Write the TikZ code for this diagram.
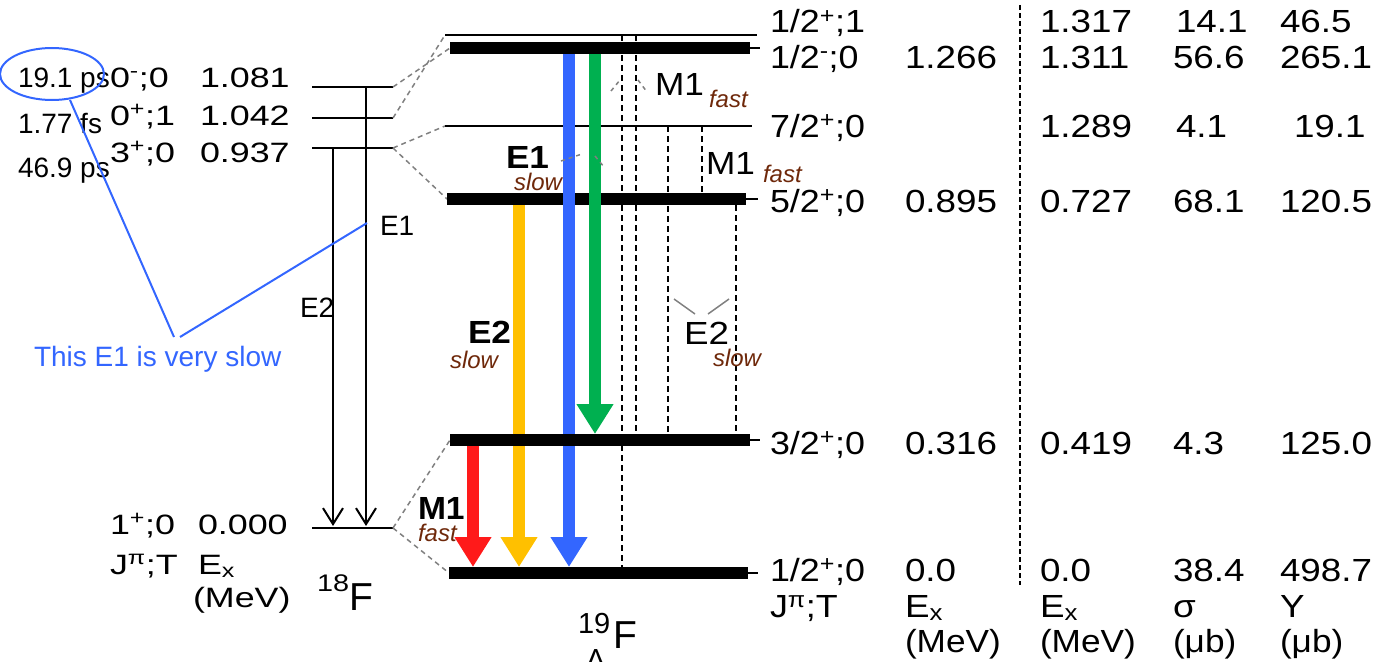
\documentclass[tikz,border=0pt]{standalone}
\usepackage{fontspec}
\setmainfont{Liberation Sans}
\usepackage{graphicx}
\usetikzlibrary{arrows.meta}
\definecolor{annblue}{RGB}{51,102,255}
\definecolor{arrred}{RGB}{255,26,26}
\definecolor{arryel}{RGB}{255,192,0}
\definecolor{arrblue}{RGB}{51,102,255}
\definecolor{arrgreen}{RGB}{0,176,80}
\definecolor{brownlab}{RGB}{110,40,10}
\definecolor{dashgrey}{RGB}{128,128,128}
\newcommand\hs[2]{\scalebox{#1}[1]{#2}}
\newcommand\sps[1]{\textsuperscript{#1}}
\begin{document}
\begin{tikzpicture}[x=1pt,y=-1pt,inner sep=0pt,outer sep=0pt,
  txt/.style={anchor=base west},
  lvl/.style={txt,font=\fontsize{28}{28}\selectfont},
  col/.style={txt,font=\fontsize{32}{32}\selectfont},
  life/.style={txt,font=\fontsize{28}{28}\selectfont},
  trl/.style={txt,font=\fontsize{32}{32}\selectfont},
  trb/.style={txt,font=\fontsize{32}{32}\selectfont\bfseries},
  speed/.style={txt,font=\fontsize{24}{24}\selectfont\itshape,text=brownlab},
  thin/.style={line width=1.5pt},
  bar/.style={line width=12pt},
  conn/.style={dashgrey,line width=1.5pt,dash pattern=on 5pt off 4pt},
  vdash/.style={line width=1.4pt,dash pattern=on 6pt off 4pt},
  ptr/.style={dashgrey,line width=1.5pt,dash pattern=on 4pt off 4pt},
  gam/.style={line width=12pt,-{Triangle[length=30pt,width=35pt]}},
  oarr/.style={line width=2pt,-{Straight Barb[length=16pt,width=20pt]}},
  ann/.style={annblue,line width=2pt}]
\useasboundingbox (0,0) rectangle (1378,661);

% ---------- 18F levels ----------
\coordinate (fAl) at (312,87);  \coordinate (fAr) at (393,87);
\coordinate (fBl) at (312,118); \coordinate (fBr) at (393,118);
\coordinate (fCl) at (312,148); \coordinate (fCr) at (393,148);
\coordinate (fGl) at (312,528); \coordinate (fGr) at (393,528);
\draw[thin] (fAl) -- (fAr);
\draw[thin] (fBl) -- (fBr);
\draw[thin] (fCl) -- (fCr);
\draw[thin] (fGl) -- (fGr);

% 18F transitions
\coordinate (e1s) at (366,87);  \coordinate (e1e) at (366,526);
\coordinate (e2s) at (333,148); \coordinate (e2e) at (333,526);
\draw[oarr] (e1s) -- (e1e);
\draw[oarr] (e2s) -- (e2e);
\node[lvl] (le1) at (380,235) {E1};
\node[lvl] (le2) at (300,317) {E2};

% ---------- 19LF levels ----------
\coordinate (tl) at (445,35);   \coordinate (tr) at (757,35);
\coordinate (b1l) at (450,48);  \coordinate (b1r) at (750,48);  \coordinate (b1t) at (760,48);
\coordinate (s7l) at (445,126); \coordinate (s7r) at (752,126);
\coordinate (b5l) at (447,199); \coordinate (b5r) at (746,199); \coordinate (b5t) at (758,199);
\coordinate (b3l) at (450,440); \coordinate (b3r) at (750,440); \coordinate (b3t) at (760,440);
\coordinate (b0l) at (449,573); \coordinate (b0r) at (748,573); \coordinate (b0t) at (758,573);

% dashed connectors 18F -> 19LF
\draw[conn] (fAr) -- (b1l);
\draw[conn] (fBr) -- (tl);
\draw[conn] (fCr) -- (s7l);
\draw[conn] (fCr) -- (b5l);
\draw[conn] (fGr) -- (b3l);
\draw[conn] (fGr) -- (b0l);

% thin levels and ticks
\draw[thin] (tl) -- (tr);
\draw[thin] (s7l) -- (s7r);
\draw[thin] (b1r) -- (b1t);
\draw[thin] (b5r) -- (b5t);
\draw[thin] (b3r) -- (b3t);
\draw[thin] (b0r) -- (b0t);

% dashed transitions
\coordinate (d1s) at (622,35);  \coordinate (d1e) at (622,567);
\coordinate (d2s) at (636,35);  \coordinate (d2e) at (636,434);
\coordinate (d3s) at (668,126); \coordinate (d3e) at (668,434);
\coordinate (d4s) at (702,126); \coordinate (d4e) at (702,193);
\coordinate (d5s) at (736,205); \coordinate (d5e) at (736,434);
\draw[vdash] (d1s) -- (d1e);
\draw[vdash] (d2s) -- (d2e);
\draw[vdash] (d3s) -- (d3e);
\draw[vdash] (d4s) -- (d4e);
\draw[vdash] (d5s) -- (d5e);

\draw[bar] (b5l) -- (b5r);

% coloured gamma arrows
\coordinate (rs) at (473,446); \coordinate (re) at (473,567);
\coordinate (ys) at (519,205); \coordinate (ye) at (519,567);
\coordinate (bs) at (569,54);  \coordinate (be) at (569,567);
\coordinate (gs) at (595,54);  \coordinate (ge) at (595,434);
\draw[gam,arrred] (rs) -- (re);
\draw[gam,arryel] (ys) -- (ye);
\draw[gam,arrblue] (bs) -- (be);
\draw[gam,arrgreen] (gs) -- (ge);

\draw[bar] (b1l) -- (b1r);
\draw[bar] (b3l) -- (b3r);
\draw[bar] (b0l) -- (b0r);

% pointers
\coordinate (p1a) at (611,91); \coordinate (p1b) at (620,80);
\coordinate (p2a) at (638,80); \coordinate (p2b) at (647,92);
\coordinate (p3a) at (561,161); \coordinate (p3b) at (582,154);
\coordinate (p4a) at (595,156); \coordinate (p4b) at (604,167);
\draw[ptr] (p1a) -- (p1b);
\draw[ptr] (p2a) -- (p2b);
\draw[ptr] (p3a) -- (p3b);
\draw[ptr] (p4a) -- (p4b);
\coordinate (q1a) at (674,299); \coordinate (q1b) at (695,314);
\coordinate (q2a) at (708,314); \coordinate (q2b) at (729,299);
\draw[dashgrey,line width=1.5pt] (q1a) -- (q1b);
\draw[dashgrey,line width=1.5pt] (q2a) -- (q2b);

% transition labels
\node[trl] (m1a) at (655,95) {\hs{1.1}{M1}};
\node[speed] (m1af) at (709,107) {fast};
\node[trl] (m1b) at (706,174) {\hs{1.1}{M1}};
\node[speed] (m1bf) at (763,182) {fast};
\node[trb] (e1b) at (506,168) {\hs{1.1}{E1}};
\node[speed] (e1bs) at (514,190) {slow};
\node[trb] (e2b) at (468,343) {\hs{1.1}{E2}};
\node[speed] (e2bs) at (450,368) {slow};
\node[trl] (e2t) at (684,344) {\hs{1.15}{E2}};
\node[speed] (e2ts) at (713,366) {slow};
\node[trb] (m1c) at (418,519) {\hs{1.05}{M1}};
\node[speed] (m1cs) at (418,541) {fast};

% 18F level labels
\node[lvl] (ja) at (110,87)  {\hs{1.28}{0\sps{-};0}};
\node[lvl] (ea) at (200,87)  {\hs{1.28}{1.081}};
\node[lvl] (jb) at (110,125) {\hs{1.28}{0\sps{+};1}};
\node[lvl] (eb) at (200,125) {\hs{1.28}{1.042}};
\node[lvl] (jc) at (110,162) {\hs{1.28}{3\sps{+};0}};
\node[lvl] (ec) at (200,162) {\hs{1.28}{0.937}};
\node[lvl] (jg) at (110,534) {\hs{1.28}{1\sps{+};0}};
\node[lvl] (eg) at (198,534) {\hs{1.28}{0.000}};
\node[lvl] (jh) at (110,574) {\hs{1.28}{J\sps{π};T}};
\node[lvl] (eh) at (198,574) {\hs{1.28}{E\textsubscript{x}}};
\node[lvl] (mh) at (193,607) {\hs{1.28}{(MeV)}};
\node[txt,font=\fontsize{24}{24}\selectfont] (f18a) at (317,591) {\hs{1.2}{18}};
\node[txt,font=\fontsize{39}{39}\selectfont] (f18b) at (349,610) {F};

% lifetimes
\node[life] (t1) at (18,88)  {19.1 ps};
\node[life] (t2) at (18,133) {1.77 fs};
\node[life] (t3) at (18,177) {46.9 ps};

% annotation
\draw[ann] (52,74) ellipse [x radius=52, y radius=26];
\coordinate (a0) at (70,100);
\coordinate (a1) at (174,337);
\coordinate (a2) at (180,337);
\coordinate (a3) at (367,223);
\draw[ann] (a0) -- (a1);
\draw[ann] (a2) -- (a3);
\node[life,text=annblue] (anntxt) at (34,366) {This E1 is very slow};

% 19LF labels
\node[txt,font=\fontsize{29}{29}\selectfont] (f19a) at (578,633) {19};
\node[txt,font=\fontsize{39}{39}\selectfont] (f19b) at (613,648) {F};
\node[txt,font=\fontsize{29}{29}\selectfont] (f19c) at (586,669) {Λ};

% right columns
\node[col] (r1a) at (770,33)  {\hs{1.12}{1/2\sps{+};1}};
\node[col] (r1c) at (1040,33) {\hs{1.15}{1.317}};
\node[col] (r1d) at (1176,33) {\hs{1.15}{14.1}};
\node[col] (r1e) at (1280,33) {\hs{1.15}{46.5}};

\node[col] (r2a) at (770,68)  {\hs{1.12}{1/2\sps{-};0}};
\node[col] (r2b) at (905,68)  {\hs{1.15}{1.266}};
\node[col] (r2c) at (1040,68) {\hs{1.15}{1.311}};
\node[col] (r2d) at (1173,68) {\hs{1.15}{56.6}};
\node[col] (r2e) at (1280,68) {\hs{1.15}{265.1}};

\node[col] (r3a) at (770,137)  {\hs{1.12}{7/2\sps{+};0}};
\node[col] (r3c) at (1040,137) {\hs{1.15}{1.289}};
\node[col] (r3d) at (1176,137) {\hs{1.15}{4.1}};
\node[col] (r3e) at (1294,137) {\hs{1.15}{19.1}};

\node[col] (r4a) at (770,212)  {\hs{1.12}{5/2\sps{+};0}};
\node[col] (r4b) at (905,212)  {\hs{1.15}{0.895}};
\node[col] (r4c) at (1040,212) {\hs{1.15}{0.727}};
\node[col] (r4d) at (1173,212) {\hs{1.15}{68.1}};
\node[col] (r4e) at (1280,212) {\hs{1.15}{120.5}};

\node[col] (r5a) at (770,454)  {\hs{1.12}{3/2\sps{+};0}};
\node[col] (r5b) at (905,454)  {\hs{1.15}{0.316}};
\node[col] (r5c) at (1040,454) {\hs{1.15}{0.419}};
\node[col] (r5d) at (1173,454) {\hs{1.15}{4.3}};
\node[col] (r5e) at (1280,454) {\hs{1.15}{125.0}};

\node[col] (r6a) at (770,581)  {\hs{1.12}{1/2\sps{+};0}};
\node[col] (r6b) at (905,581)  {\hs{1.15}{0.0}};
\node[col] (r6c) at (1040,581) {\hs{1.15}{0.0}};
\node[col] (r6d) at (1173,581) {\hs{1.15}{38.4}};
\node[col] (r6e) at (1280,581) {\hs{1.15}{498.7}};

\node[col] (h1a) at (770,617)  {\hs{1.12}{J\sps{π};T}};
\node[col] (h1b) at (905,617)  {\hs{1.15}{E\textsubscript{x}}};
\node[col] (h1c) at (1040,617) {\hs{1.15}{E\textsubscript{x}}};
\node[col] (h1d) at (1173,617) {\hs{1.15}{σ}};
\node[col] (h1e) at (1280,617) {\hs{1.15}{Y}};
\node[col] (h2b) at (905,652)  {\hs{1.1}{(MeV)}};
\node[col] (h2c) at (1040,652) {\hs{1.1}{(MeV)}};
\node[col] (h2d) at (1173,652) {\hs{1.1}{(μb)}};
\node[col] (h2e) at (1280,652) {\hs{1.1}{(μb)}};

% separator
\coordinate (sepT) at (1020,5);
\coordinate (sepB) at (1020,585);
\draw[line width=1.5pt,dash pattern=on 5pt off 3pt] (sepT) -- (sepB);
\end{tikzpicture}
\end{document}
